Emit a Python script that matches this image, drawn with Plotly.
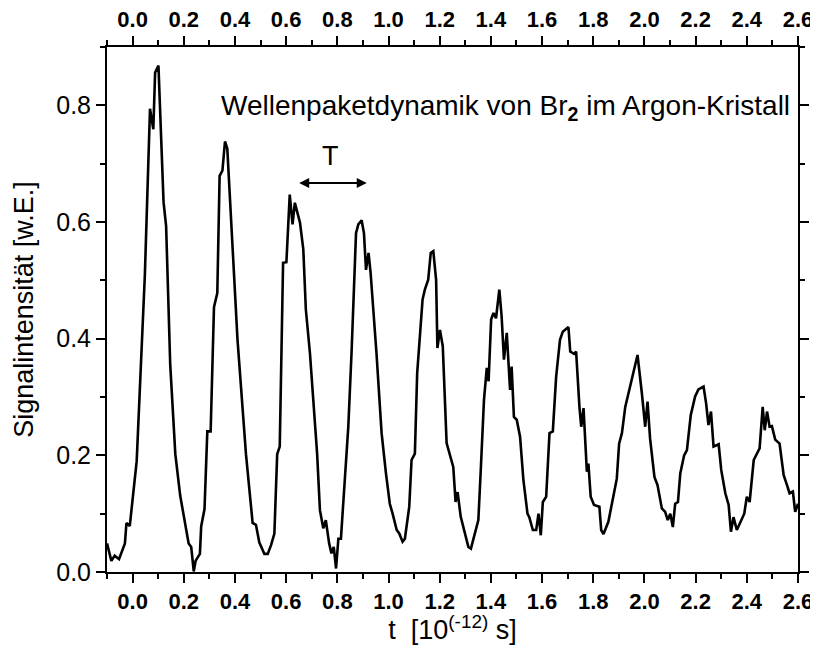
import plotly.graph_objects as go

# time axis in units of 1e-12 s
t = [-0.1, -0.083, -0.07, -0.053, -0.03, -0.024, -0.011, 0.0, 0.016, 0.029, 0.048, 0.068, 0.081, 0.088, 0.101,
     0.121, 0.131, 0.147, 0.167, 0.186, 0.206, 0.219, 0.229, 0.239, 0.246, 0.263, 0.268, 0.281, 0.292, 0.305,
     0.318, 0.331, 0.34, 0.351, 0.361, 0.37, 0.41, 0.443, 0.469, 0.482, 0.495, 0.515, 0.528, 0.541, 0.554, 0.565,
     0.575, 0.588, 0.601, 0.614, 0.625, 0.634, 0.654, 0.667, 0.677, 0.693, 0.706, 0.721, 0.732, 0.745, 0.755,
     0.768, 0.777, 0.786, 0.795, 0.804, 0.814, 0.830, 0.843, 0.856, 0.873, 0.882, 0.895, 0.904, 0.912, 0.922,
     0.930, 0.953, 0.973, 0.990, 1.005, 1.016, 1.032, 1.042, 1.055, 1.064, 1.081, 1.090, 1.103, 1.112, 1.133,
     1.142, 1.155, 1.165, 1.175, 1.186, 1.191, 1.201, 1.212, 1.227, 1.238, 1.253, 1.262, 1.270, 1.282, 1.299,
     1.312, 1.322, 1.338, 1.351, 1.361, 1.373, 1.384, 1.391, 1.401, 1.410, 1.420, 1.433, 1.442, 1.451, 1.462,
     1.475, 1.481, 1.490, 1.501, 1.514, 1.527, 1.543, 1.550, 1.564, 1.577, 1.586, 1.595, 1.603, 1.616, 1.629,
     1.642, 1.655, 1.670, 1.681, 1.703, 1.710, 1.725, 1.733, 1.746, 1.753, 1.762, 1.775, 1.781, 1.790, 1.803,
     1.824, 1.831, 1.840, 1.859, 1.872, 1.892, 1.901, 1.912, 1.925, 1.938, 1.955, 1.970, 1.973, 1.990, 2.003,
     2.012, 2.022, 2.039, 2.051, 2.068, 2.081, 2.091, 2.101, 2.111, 2.120, 2.131, 2.140, 2.155, 2.166, 2.181,
     2.198, 2.211, 2.231, 2.241, 2.250, 2.260, 2.270, 2.290, 2.300, 2.316, 2.329, 2.338, 2.348, 2.361, 2.390,
     2.400, 2.411, 2.427, 2.440, 2.450, 2.462, 2.470, 2.479, 2.489, 2.498, 2.511, 2.528, 2.544, 2.557, 2.567,
     2.580, 2.589, 2.600]

signal = [0.049, 0.019, 0.028, 0.022, 0.049, 0.084, 0.079, 0.125, 0.19, 0.32, 0.51, 0.794, 0.759, 0.856, 0.868,
          0.634, 0.593, 0.356, 0.202, 0.131, 0.084, 0.049, 0.043, 0.001, 0.019, 0.031, 0.078, 0.108, 0.241, 0.241,
          0.454, 0.478, 0.679, 0.688, 0.738, 0.726, 0.398, 0.202, 0.084, 0.081, 0.051, 0.031, 0.031, 0.046, 0.066, 0.202,
          0.215, 0.530, 0.531, 0.647, 0.596, 0.633, 0.599, 0.553, 0.450, 0.375, 0.295, 0.203, 0.106, 0.075, 0.089,
          0.049, 0.032, 0.043, 0.006, 0.057, 0.057, 0.169, 0.25, 0.381, 0.581, 0.596, 0.603, 0.581, 0.518, 0.547,
          0.513, 0.375, 0.238, 0.169, 0.117, 0.1, 0.072, 0.066, 0.052, 0.057, 0.112, 0.192, 0.203, 0.341, 0.467,
          0.484, 0.501, 0.547, 0.550, 0.501, 0.384, 0.415, 0.387, 0.221, 0.203, 0.180, 0.120, 0.137, 0.095, 0.066,
          0.043, 0.040, 0.066, 0.089, 0.180, 0.295, 0.350, 0.327, 0.433, 0.444, 0.435, 0.484, 0.438, 0.364, 0.410,
          0.312, 0.352, 0.266, 0.261, 0.232, 0.158, 0.100, 0.094, 0.072, 0.072, 0.100, 0.063, 0.120, 0.129, 0.238,
          0.241, 0.335, 0.398, 0.412, 0.420, 0.378, 0.374, 0.378, 0.283, 0.249, 0.281, 0.172, 0.186, 0.129, 0.115,
          0.112, 0.072, 0.065, 0.086, 0.117, 0.160, 0.220, 0.238, 0.283, 0.306, 0.338, 0.364, 0.372, 0.306, 0.249,
          0.292, 0.229, 0.163, 0.149, 0.109, 0.103, 0.089, 0.100, 0.077, 0.117, 0.120, 0.169, 0.200, 0.209, 0.269,
          0.301, 0.313, 0.318, 0.289, 0.252, 0.275, 0.215, 0.219, 0.175, 0.135, 0.115, 0.069, 0.094, 0.072, 0.100,
          0.129, 0.120, 0.192, 0.203, 0.212, 0.283, 0.243, 0.275, 0.249, 0.250, 0.227, 0.220, 0.166, 0.149, 0.135,
          0.138, 0.103, 0.117]

x_range = [-0.1, 2.6]
y_range = [0.0, 0.9]
chart_title = "Wellenpaketdynamik von Br<sub><b>2</b></sub> im Argon-Kristall"
x_title = "t  [10<sup>(-12)</sup> s]"
y_title = "Signalintensität [w.E.]"
period_label = "T"
period_start, period_end, period_y = 0.645, 0.915, 0.667

FONT = "Liberation Sans, Arial, sans-serif"

fig = go.Figure()
fig.add_trace(go.Scatter(x=t, y=signal, mode="lines", line=dict(color="black", width=2.6),
                         showlegend=False, hoverinfo="skip"))
# same data attached to the top axis (invisible) so that the top axis is drawn
fig.add_trace(go.Scatter(x=t, y=signal, xaxis="x2", yaxis="y", mode="lines",
                         line=dict(color="rgba(0,0,0,0)", width=0), showlegend=False, hoverinfo="skip"))

axis_common = dict(showline=True, linecolor="black", linewidth=2, ticks="outside", ticklen=9,
                   tickwidth=2, tickcolor="black", showgrid=False, zeroline=False, automargin=False)
minor_x = dict(dtick=0.1, tick0=0, ticks="outside", ticklen=5, tickwidth=2, tickcolor="black", showgrid=False)
xtickfont = dict(family=FONT, size=22, color="black", weight="bold")

fig.update_layout(
    width=802, height=637,
    margin=dict(l=99, r=12, t=39, b=73),
    paper_bgcolor="white", plot_bgcolor="white",
    xaxis=dict(range=x_range, tick0=0, dtick=0.2, tickformat=".1f", minor=minor_x,
               tickfont=xtickfont, ticklabeloverflow="allow",
               title=dict(text=x_title, font=dict(family=FONT, size=27, color="black")),
               **axis_common),
    xaxis2=dict(range=x_range, overlaying="x", side="top", anchor="y",
                tick0=0, dtick=0.2, tickformat=".1f", minor=minor_x,
                tickfont=xtickfont, ticklabeloverflow="allow", **axis_common),
    yaxis=dict(range=y_range, tick0=0, dtick=0.2, tickformat=".1f", mirror="ticks",
               minor=dict(dtick=0.1, tick0=0, ticks="outside", ticklen=5, tickwidth=2, tickcolor="black",
                          showgrid=False),
               tickfont=dict(family=FONT, size=25, color="black"),
               title=dict(text=y_title, font=dict(family=FONT, size=27, color="black")),
               **axis_common),
    annotations=[
        dict(text=chart_title, x=0.992, xref="paper", xanchor="right", y=0.797, yref="y", yanchor="middle",
             showarrow=False, font=dict(family=FONT, size=28, color="black")),
        dict(text=period_label, x=0.775, xref="x", y=0.7125, yref="y",
             showarrow=False, font=dict(family=FONT, size=27, color="black")),
        dict(text="", x=period_end, y=period_y, xref="x", yref="y", ax=period_start, ay=period_y,
             axref="x", ayref="y", showarrow=True, arrowhead=2, arrowside="end+start", arrowsize=1,
             arrowwidth=2, arrowcolor="black", standoff=0, startstandoff=0),
    ],
)

fig.write_html("out.html")
